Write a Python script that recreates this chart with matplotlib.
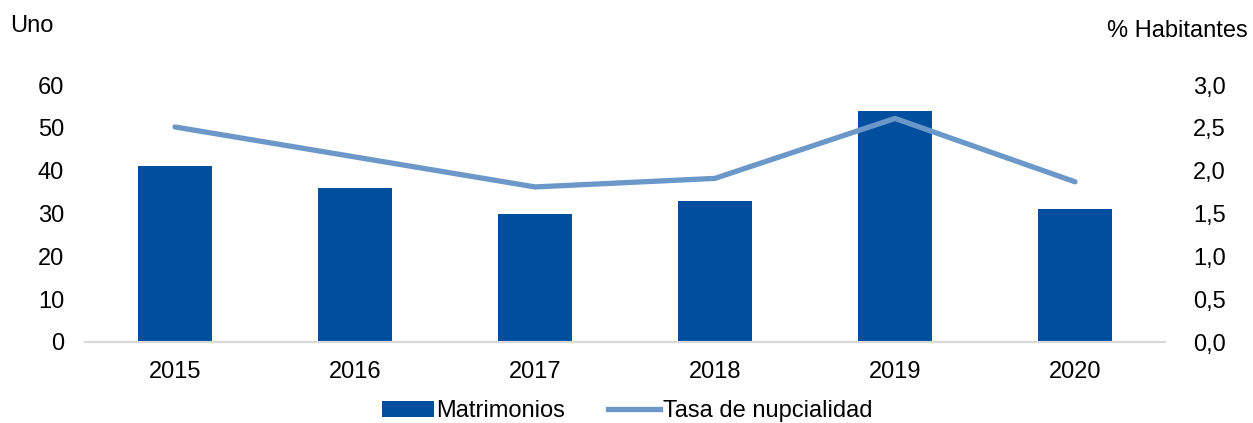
import numpy as np
import matplotlib.pyplot as plt
from matplotlib.lines import Line2D
from matplotlib.patches import Patch

plt.rcParams['font.family'] = ['Liberation Sans', 'DejaVu Sans']

# --- Data ---
years = ['2015', '2016', '2017', '2018', '2019', '2020']
matrimonios = [41, 36, 30, 33, 54, 31]
tasa = [2.51, 2.16, 1.81, 1.91, 2.61, 1.87]

bar_color = '#004f9f'
line_color = '#6b98c8'
fs = 17

fig = plt.figure(figsize=(12.53, 4.23), dpi=100)
ax = fig.add_axes([85 / 1253, 1 - 342 / 423, 1080 / 1253, 257 / 423])
x = np.arange(len(years))

ax.bar(x, matrimonios, width=0.41, color=bar_color, zorder=2)
ax.set_xlim(-0.5, len(years) - 0.5)
ax.set_ylim(0, 60)
ax.set_yticks(np.arange(0, 61, 10))
ax.set_xticks(x)
ax.set_xticklabels(years)

ax2 = ax.twinx()
ax2.plot(x, tasa, color=line_color, linewidth=3.8, solid_capstyle='round', zorder=3)
ax2.set_ylim(0, 3.0)
ax2.set_yticks(np.arange(0, 3.01, 0.5))
ax2.set_yticklabels([f'{v:.1f}'.replace('.', ',') for v in np.arange(0, 3.01, 0.5)])

for a in (ax, ax2):
    for s in ('top', 'left', 'right'):
        a.spines[s].set_visible(False)
    a.spines['bottom'].set_color('#d9d9d9')
    a.spines['bottom'].set_linewidth(1.5)
    a.tick_params(length=0, labelsize=fs, colors='black')
ax.tick_params(axis='y', pad=15)
ax2.tick_params(axis='y', pad=20)
ax.tick_params(axis='x', pad=14)

fig.text(10 / 1253, 1 - 26 / 423, 'Uno', fontsize=fs, va='center', ha='left')
fig.text(1248 / 1253, 1 - 31 / 423, '% Habitantes', fontsize=fs, va='center', ha='right')

handles = [Patch(facecolor=bar_color, label='Matrimonios'),
           Line2D([0], [0], color=line_color, linewidth=3.8, label='Tasa de nupcialidad')]
fig.legend(handles=handles, loc='center', bbox_to_anchor=(627 / 1253, 1 - 411 / 423),
           ncol=2, frameon=False, fontsize=fs, handlelength=2.2, handletextpad=0.12,
           columnspacing=1.8, handleheight=0.65)

fig.savefig('out.png', dpi=100)
